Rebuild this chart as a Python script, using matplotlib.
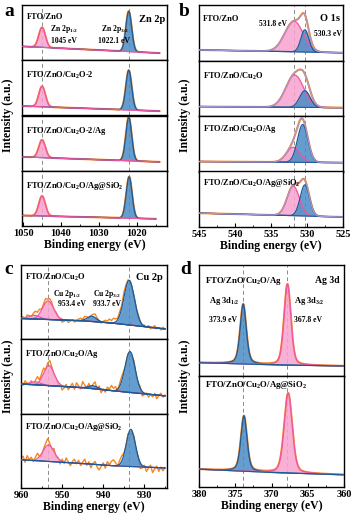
import numpy as np
import matplotlib.pyplot as plt
from matplotlib.ticker import MultipleLocator

plt.rcParams['font.family'] = 'Liberation Serif'
plt.rcParams['font.weight'] = 'bold'
plt.rcParams['mathtext.fontset'] = 'custom'
plt.rcParams['mathtext.rm'] = 'Liberation Serif:bold'
plt.rcParams['mathtext.it'] = 'Liberation Serif:bold'
plt.rcParams['mathtext.bf'] = 'Liberation Serif:bold'
plt.rcParams['mathtext.default'] = 'rm'

W, H = 354, 517
ORANGE = '#F7861E'
PINK_L = '#F0559E'
PINK_F = '#F8A3CF'
BLUE_L = '#1C5A98'
BLUE_F = '#4A8DC6'
ENV = '#A898D2'
DASH = '#8A8A8A'

# ---------------- data (intensity in fraction of each sub-panel) ----------------
# a : Zn 2p
a_labels = ['FTO/ZnO', 'FTO/ZnO/Cu$_2$O-2', 'FTO/ZnO/Cu$_2$O-2/Ag', 'FTO/ZnO/Cu$_2$O/Ag@SiO$_2$']
a_end = [1014, 1014, 1014, 1015]
a_bg = [[0.25, 0.13], [0.17, 0.08], [0.25, 0.16], [0.19, 0.13]]   # at 1050 / at end
a_p12 = [[1045.0, 2.0, 0.36], [1045.0, 2.0, 0.37], [1045.0, 2.0, 0.32], [1045.0, 2.0, 0.36]]
a_p32 = [[1022.1, 1.8, 0.73], [1022.1, 1.8, 0.72], [1022.1, 1.8, 0.79], [1022.0, 1.8, 0.75]]

# b : O 1s
b_labels = ['FTO/ZnO', 'FTO/ZnO/Cu$_2$O', 'FTO/ZnO/Cu$_2$O/Ag', 'FTO/ZnO/Cu$_2$O/Ag@SiO$_2$']
b_bg = [[0.19, 0.14], [0.17, 0.15], [0.18, 0.16], [0.25, 0.18]]
b_pink = [[531.8, 3.0, 0.55], [531.7, 2.9, 0.58], [531.9, 2.2, 0.27], [531.9, 2.0, 0.53]]
b_blue = [[530.3, 1.3, 0.40], [530.3, 1.7, 0.30], [530.6, 1.7, 0.68], [530.3, 1.5, 0.56]]

# c : Cu 2p
c_labels = ['FTO/ZnO/Cu$_2$O', 'FTO/ZnO/Cu$_2$O/Ag', 'FTO/ZnO/Cu$_2$O/Ag@SiO$_2$']
c_bg_x = [960, 945, 938, 925]
c_bg = [[0.28, 0.25, 0.22, 0.14], [0.40, 0.35, 0.31, 0.24], [0.38, 0.33, 0.30, 0.27]]
c_pink = [[[956.8, 3.0, 0.05], [953.4, 3.2, 0.25]],
          [[956.5, 3.0, 0.04], [953.2, 3.0, 0.27]],
          [[953.3, 3.2, 0.22]]]
c_blue = [[[942.8, 2.6, 0.07], [933.7, 3.0, 0.60]],
          [[942.5, 2.5, 0.04], [933.5, 2.9, 0.55]],
          [[933.3, 2.6, 0.50]]]
c_res = [
    [0.00, 0.02, -0.01, 0.03, 0.01, -0.02, 0.02, 0.04, 0.01, 0.03, -0.01, 0.02, 0.05, 0.02, 0.04,
     0.03, -0.02, 0.01, -0.03, -0.01, -0.04, -0.02, 0.00, -0.03, -0.01, 0.01, -0.02, 0.00, 0.02,
     0.03, 0.01, 0.04, 0.02, -0.01, 0.01, 0.03, 0.05, 0.02, 0.00, -0.02, 0.01, 0.03, 0.02, 0.05,
     0.03, 0.06, 0.04, 0.02, 0.05, 0.03, 0.07, 0.04, 0.02, 0.00, -0.02, 0.01, -0.01, 0.02, 0.00,
     -0.02, 0.01, -0.01, 0.02, -0.02, 0.00, 0.03, -0.01, 0.01, -0.02, 0.02, 0.00],
    [0.03, -0.02, 0.04, 0.00, -0.03, 0.02, -0.04, 0.01, 0.05, -0.01, 0.03, 0.06, -0.02, 0.04, 0.07,
     0.02, -0.03, -0.01, -0.05, 0.00, -0.06, -0.02, 0.03, -0.04, 0.01, 0.05, -0.03, 0.06, 0.02,
     -0.02, 0.08, 0.03, -0.01, 0.04, -0.03, 0.02, 0.06, -0.02, 0.03, -0.05, 0.01, -0.03, 0.04, 0.02,
     0.07, 0.03, 0.05, -0.02, 0.04, 0.06, 0.02, -0.03, 0.01, -0.05, -0.02, 0.03, -0.04, -0.01, 0.02,
     -0.06, -0.02, 0.01, -0.04, 0.00, -0.03, 0.02, -0.05, -0.01, 0.03, -0.02, 0.01],
    [0.02, 0.05, -0.03, 0.06, 0.01, 0.04, -0.02, 0.03, 0.07, 0.00, -0.04, 0.02, 0.05, 0.09, 0.03,
     -0.02, 0.04, -0.03, 0.01, -0.05, 0.03, -0.02, 0.06, 0.01, -0.04, 0.02, 0.05, -0.01, 0.04,
     -0.03, 0.02, 0.06, -0.02, 0.03, -0.05, 0.01, 0.04, -0.03, -0.07, -0.02, 0.03, -0.04, 0.05,
     0.01, 0.06, 0.08, 0.04, -0.01, 0.05, 0.07, 0.02, -0.02, 0.03, -0.06, -0.03, 0.02, -0.05, 0.01,
     -0.08, -0.03, 0.02, -0.06, -0.01, 0.03, -0.07, -0.02, 0.02, -0.05, 0.01, -0.04, 0.00],
]

# d : Ag 3d
d_labels = ['FTO/ZnO/Cu$_2$O/Ag', 'FTO/ZnO/Cu$_2$O/Ag@SiO$_2$']
d_bg = [[0.12, 0.10, 0.09], [0.16, 0.13, 0.11]]   # at 380 / 370 / 360
d_blue = [[373.9, 1.0, 0.54], [373.8, 1.0, 0.50]]
d_pink = [[367.8, 1.1, 0.73], [367.7, 1.3, 0.72]]


def peak(x, c, w, h, eta=0.0):
    g = np.exp(-4 * np.log(2) * ((x - c) / w) ** 2)
    l = 1 / (1 + 4 * ((x - c) / w) ** 2)
    return h * ((1 - eta) * g + eta * l)


def stack(left, right, top, bottom, n):
    axs = []
    hh = (bottom - top) / n
    for i in range(n):
        y0 = top + hh * (i + 1)
        ax = fig.add_axes([left / W, 1 - y0 / H, (right - left) / W, hh / H])
        ax.set_ylim(0, 1)
        ax.set_yticks([])
        for s in ax.spines.values():
            s.set_linewidth(1.0)
        if i < n - 1:
            ax.set_xticks([])
        axs.append(ax)
    return axs


def comp(ax, x, bg, p, fill, line, eta=0.0):
    y = peak(x, *p, eta=eta)
    ax.fill_between(x, bg, bg + y, color=fill, alpha=0.85, lw=0, zorder=2)
    ax.plot(x, bg + y, color=line, lw=0.9, zorder=3)
    return y


def lab(ax, x, y, s, size=6.0, **kw):
    ax.text(x, y, s, transform=ax.transAxes, fontsize=size, fontweight='bold', zorder=5, **kw)


def bottom_axis(ax, xlim, major, minor):
    ax.set_xlim(*xlim)
    ax.xaxis.set_major_locator(MultipleLocator(major))
    ax.xaxis.set_minor_locator(MultipleLocator(minor))
    ax.tick_params(axis='x', which='major', direction='in', length=3, width=0.8,
                   labelsize=7.5, pad=2)
    ax.tick_params(axis='x', which='minor', direction='in', length=1.5, width=0.6)
    ax.set_xlabel('Binding energy (eV)', fontsize=8.5, fontweight='bold', labelpad=1)


fig = plt.figure(figsize=(W / 100, H / 100), dpi=100)

# ---------------- a ----------------
axa = stack(22, 167, 5, 226, 4)
for i, ax in enumerate(axa):
    x = np.linspace(1050, a_end[i], 400)
    bg = np.interp(x, [a_end[i], 1050], a_bg[i][::-1])
    env = bg + peak(x, *a_p12[i]) + peak(x, *a_p32[i])
    ax.plot(x, env, color=ORANGE, lw=1.5, zorder=1)
    comp(ax, x, bg, a_p12[i], PINK_F, PINK_L)
    comp(ax, x, bg, a_p32[i], BLUE_F, BLUE_L)
    ax.plot(x, bg, color=PINK_L, lw=0.8, zorder=3)
    for c in (1045.0, 1022.1):
        ax.axvline(c, color=DASH, ls=(0, (4, 3)), lw=0.7, zorder=0)
    ax.set_xlim(1050.3, 1012)
    lab(ax, 0.03, 0.78 if i == 0 else 0.72, a_labels[i], va='center')
lab(axa[0], 0.19, 0.56, 'Zn 2p$_{1/2}$', size=5.5, va='center')
lab(axa[0], 0.20, 0.35, '1045 eV', size=5.5, va='center')
lab(axa[0], 0.735, 0.56, 'Zn 2p$_{3/2}$', size=5.5, va='center', ha='right')
lab(axa[0], 0.745, 0.35, '1022.1 eV', size=5.5, va='center', ha='right')
lab(axa[0], 0.81, 0.74, 'Zn 2p', size=7.5, va='center')
bottom_axis(axa[-1], (1050.3, 1012), 10, 5)

# ---------------- b ----------------
axb = stack(199, 343, 5, 227, 4)
for i, ax in enumerate(axb):
    x = np.linspace(545, 525, 400)
    bg = np.interp(x, [525, 545], b_bg[i][::-1])
    env = bg + peak(x, *b_pink[i]) + peak(x, *b_blue[i])
    ax.plot(x, env, color=ORANGE, lw=1.5, zorder=1)
    comp(ax, x, bg, b_pink[i], PINK_F, PINK_L)
    comp(ax, x, bg, b_blue[i], BLUE_F, BLUE_L)
    ax.plot(x, env, color=ENV, lw=0.9, zorder=4)
    ax.plot(x, bg, color=BLUE_L, lw=0.8, zorder=3)
    for c in (531.8, 530.3):
        ax.axvline(c, color=DASH, ls=(0, (4, 3)), lw=0.7, zorder=0)
    ax.set_xlim(545, 525)
    lab(ax, 0.03, [0.74, 0.71, 0.77, 0.80][i], b_labels[i], va='center')
lab(axb[0], 0.61, 0.66, '531.8 eV', size=5.5, va='center', ha='right')
lab(axb[0], 0.80, 0.48, '530.3 eV', size=5.5, va='center')
lab(axb[0], 0.84, 0.76, 'O 1s', size=7.5, va='center')
bottom_axis(axb[-1], (545, 525), 5, 2.5)

# ---------------- c ----------------
axc = stack(21, 167, 265, 488, 3)
for i, ax in enumerate(axc):
    x = np.linspace(960, 925, 500)
    xd = np.linspace(960, 925, len(c_res[i]))
    bg = np.interp(x, c_bg_x[::-1], c_bg[i][::-1])
    bgd = np.interp(xd, c_bg_x[::-1], c_bg[i][::-1])
    envd = bgd + np.array(c_res[i])
    for p in c_pink[i] + c_blue[i]:
        envd = envd + peak(xd, *p)
    ax.plot(xd, envd, color=ORANGE, lw=1.0, zorder=1)
    for p in c_pink[i]:
        comp(ax, x, bg, p, PINK_F, PINK_L)
    for p in c_blue[i]:
        comp(ax, x, bg, p, BLUE_F, BLUE_L)
    ax.plot(x, bg, color=BLUE_L, lw=0.8, zorder=3)
    for c in (953.4, 933.7):
        ax.axvline(c, color=DASH, ls=(0, (4, 3)), lw=0.7, zorder=0)
    ax.set_xlim(960, 924.5)
    lab(ax, 0.03, [0.83, 0.80, 0.82][i], c_labels[i], va='center')
lab(axc[0], 0.22, 0.61, 'Cu 2p$_{1/2}$', size=5.5, va='center')
lab(axc[0], 0.25, 0.47, '953.4 eV', size=5.5, va='center')
lab(axc[0], 0.49, 0.61, 'Cu 2p$_{3/2}$', size=5.5, va='center')
lab(axc[0], 0.49, 0.47, '933.7 eV', size=5.5, va='center')
lab(axc[0], 0.79, 0.83, 'Cu 2p', size=7.5, va='center')
bottom_axis(axc[-1], (960, 924.5), 10, 5)

# ---------------- d ----------------
axd = stack(199, 344, 265, 487, 2)
for i, ax in enumerate(axd):
    x = np.linspace(380, 360, 500)
    bg = np.interp(x, [360, 370, 380], d_bg[i][::-1])
    env = bg + peak(x, *d_blue[i], eta=0.4) + peak(x, *d_pink[i], eta=0.3)
    ax.plot(x, env, color=ORANGE, lw=1.5, zorder=1)
    comp(ax, x, bg, d_blue[i], BLUE_F, BLUE_L, eta=0.4)
    comp(ax, x, bg, d_pink[i], PINK_F, PINK_L, eta=0.3)
    ax.plot(x, bg, color=BLUE_L, lw=0.8, zorder=3)
    for c in (373.9, 367.8):
        ax.axvline(c, color=DASH, ls=(0, (4, 3)), lw=0.7, zorder=0)
    ax.set_xlim(380, 360)
    lab(ax, 0.04, [0.86, 0.92][i], d_labels[i], size=6.3, va='center')
lab(axd[0], 0.07, 0.68, 'Ag 3d$_{1/2}$', size=6.0, va='center')
lab(axd[0], 0.07, 0.50, '373.9 eV', size=5.5, va='center')
lab(axd[0], 0.655, 0.68, 'Ag 3d$_{3/2}$', size=6.0, va='center')
lab(axd[0], 0.655, 0.50, '367.8 eV', size=5.5, va='center')
lab(axd[0], 0.80, 0.86, 'Ag 3d', size=7.0, va='center')
bottom_axis(axd[-1], (380, 360), 5, 2.5)

# ---------------- outer labels ----------------
for px, py in [(8, 115), (185, 115), (8, 376), (185, 376)]:
    fig.text(px / W, 1 - py / H, 'Intensity (a.u.)', rotation=90, ha='center', va='center',
             fontsize=8.5, fontweight='bold')
for s, px, py in [('a', 9, 12), ('b', 184, 12), ('c', 9, 270), ('d', 186, 270)]:
    fig.text(px / W, 1 - py / H, s, ha='center', va='center', fontsize=14, fontweight='bold')

fig.savefig('out.png', dpi=100)
